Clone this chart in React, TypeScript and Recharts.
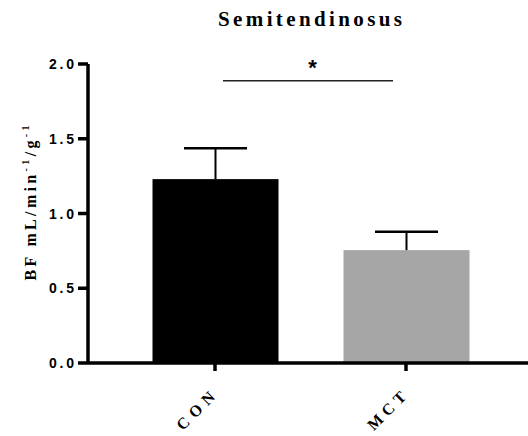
import { Bar, BarChart, XAxis, YAxis, ReferenceLine } from "recharts";

const groups = ["CON", "MCT"];
const means = [1.23, 0.755];
const sems = [0.207, 0.123];
const barColors = ["#000000", "#a6a6a6"];
const yTicks = [0, 0.5, 1.0, 1.5, 2.0];
const sigLevel = 1.888;

const data = groups.map((g, i) => ({ group: g, bf: means[i], sem: sems[i], color: barColors[i] }));

const serif = "'Liberation Serif', 'Times New Roman', serif";
const sans = "'Liberation Sans', Arial, sans-serif";

// bar with an upward-only whisker (SEM), scaled from the bar's own pixel height
const BarWithError = (props: any) => {
  const { x, y, width, height, payload } = props;
  const pxPerUnit = height / payload.bf;
  const top = y - payload.sem * pxPerUnit;
  const mid = x + width / 2;
  return (
    <g>
      <rect x={x} y={y} width={width} height={height} fill={payload.color} />
      <line x1={mid} y1={y} x2={mid} y2={top} stroke="#000" strokeWidth={2} />
      <line x1={mid - width / 4} y1={top} x2={mid + width / 4} y2={top} stroke="#000" strokeWidth={2.5} />
    </g>
  );
};

const YTick = (props: any) => {
  const { x, y, payload } = props;
  return (
    <text x={x - 2} y={y} dy={5} textAnchor="end" fontFamily={sans} fontWeight={700} fontSize={14} textLength={25} lengthAdjust="spacing" fill="#000">
      {payload.value.toFixed(1)}
    </text>
  );
};

const XTick = (props: any) => {
  const { x, y, payload } = props;
  const ax = x + 1;
  const ay = y + 25;
  return (
    <text x={ax} y={ay} textAnchor="end" transform={`rotate(-45 ${ax} ${ay})`} fontFamily={serif} fontWeight={700} fontSize={16} textLength={47} lengthAdjust="spacing" fill="#000">
      {payload.value}
    </text>
  );
};

const SigLine = (props: any) => {
  const { x1, y1, x2 } = props;
  return (
    <g>
      <line x1={x1 + 8} y1={y1} x2={x2 - 13} y2={y1} stroke="#222" strokeWidth={1.5} />
      <text x={(x1 + x2) / 2 + 2} y={y1 - 6} textAnchor="middle" fontFamily={sans} fontWeight={700} fontSize={22} fill="#000">
        *
      </text>
    </g>
  );
};

export default function App() {
  return (
    <div style={{ position: "absolute", left: 0, top: 0, width: 528, height: 436, background: "#fff" }}>
      <BarChart width={528} height={436} data={data} margin={{ top: 64, right: 0, bottom: 0, left: 0 }}>
        <XAxis
          dataKey="group"
          height={73}
          padding={{ left: 31.5, right: 26.5 }}
          stroke="#000"
          strokeWidth={3.5}
          axisLine={{ stroke: "#000", strokeWidth: 3.5 }}
          tickLine={{ stroke: "#000", strokeWidth: 3.5 }}
          tickSize={8}
          tick={<XTick />}
        />
        <YAxis
          width={88}
          domain={[0, 2]}
          ticks={yTicks}
          interval={0}
          stroke="#000"
          strokeWidth={3.5}
          axisLine={{ stroke: "#000", strokeWidth: 3.5 }}
          tickLine={{ stroke: "#000", strokeWidth: 3.5 }}
          tickSize={10}
          tick={<YTick />}
        />
        <ReferenceLine
          segment={[{ x: groups[0], y: sigLevel }, { x: groups[1], y: sigLevel }]}
          shape={<SigLine />}
          ifOverflow="visible"
        />
        <Bar dataKey="bf" barSize={126} shape={<BarWithError />} isAnimationActive={false} />
      </BarChart>
      <svg width={528} height={436} style={{ position: "absolute", left: 0, top: 0, pointerEvents: "none" }}>
        <text x={310} y={26} textAnchor="middle" fontFamily={serif} fontWeight={700} fontSize={21} textLength={184} lengthAdjust="spacing" fill="#000">
          Semitendinosus
        </text>
        <text
          x={36}
          y={203}
          textAnchor="middle"
          transform="rotate(-90 36 203)"
          fontFamily={serif}
          fontWeight={700}
          fontSize={16}
          textLength={155}
          lengthAdjust="spacing"
          fill="#000"
        >
          BF mL/min
          <tspan fontSize={10} dy={-7}>-1</tspan>
          <tspan dy={7}>/g</tspan>
          <tspan fontSize={10} dy={-7}>-1</tspan>
        </text>
      </svg>
    </div>
  );
}
